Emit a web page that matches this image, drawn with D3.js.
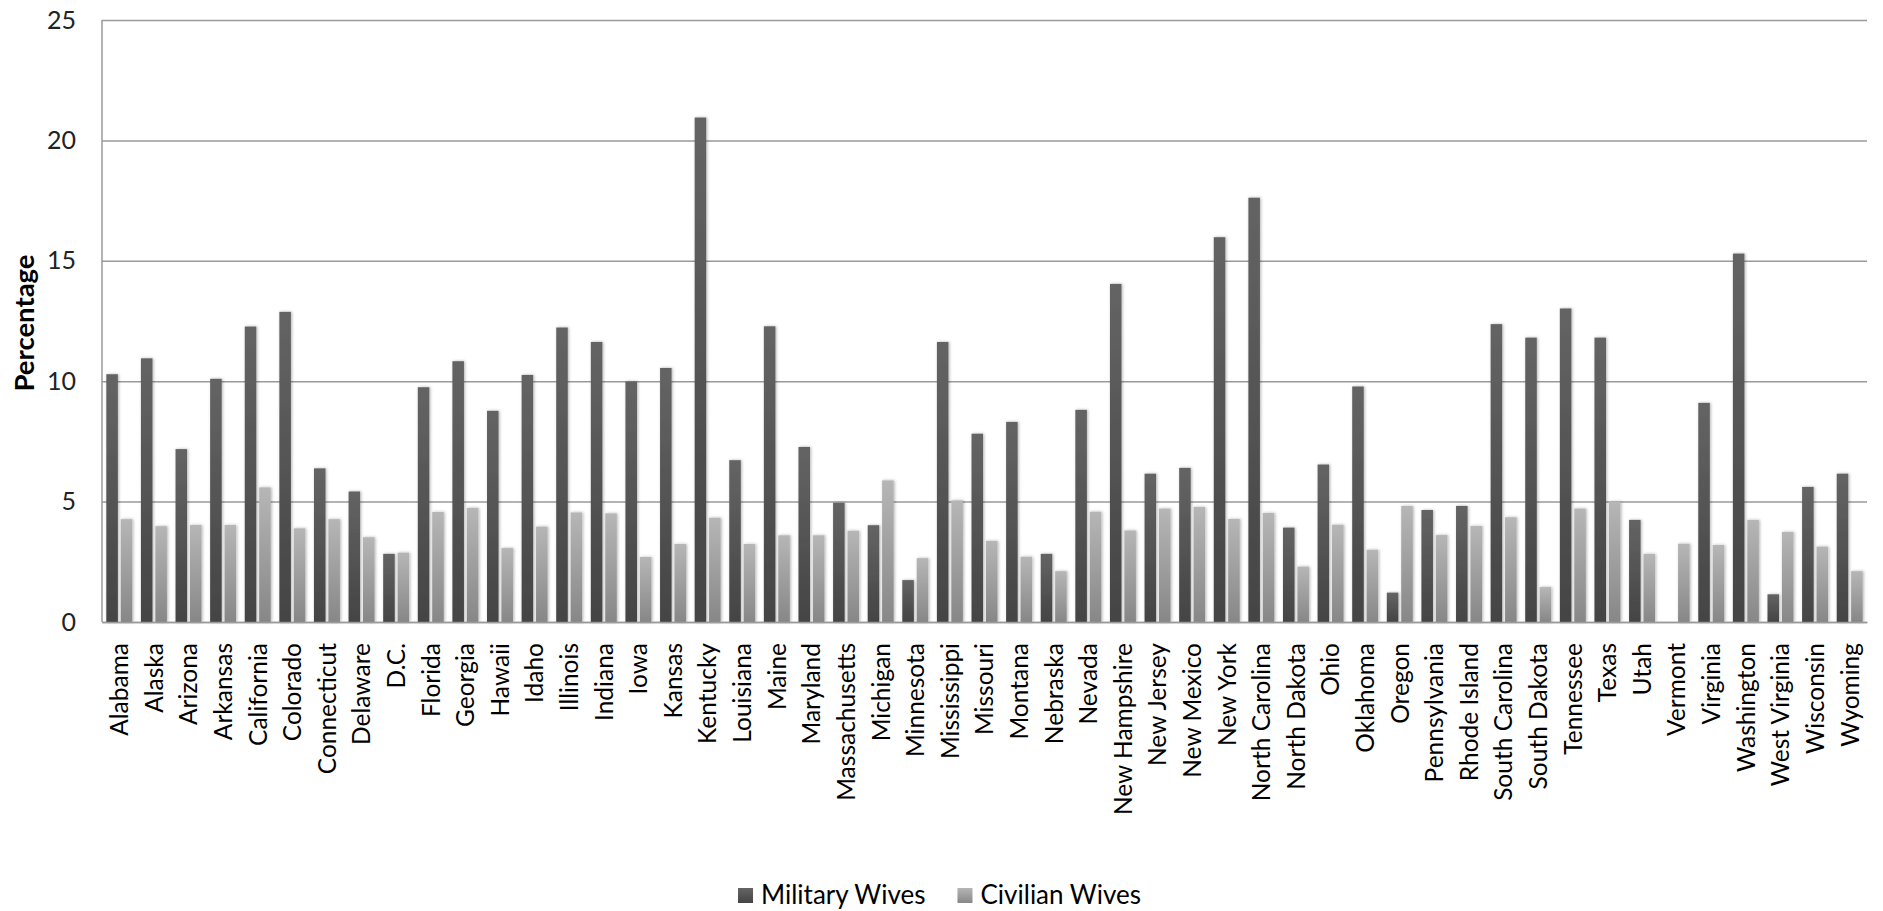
<!DOCTYPE html>
<html>
<head>
<meta charset="utf-8">
<script src="https://cdn.jsdelivr.net/npm/d3@7"></script>
<style>
  html, body { margin: 0; padding: 0; background: #ffffff; }
  svg { display: block; }
  text { font-family: Lato, "Open Sans", sans-serif; }
</style>
</head>
<body>
<svg id="chart" width="1883" height="911"></svg>
<script>
const states = ["Alabama","Alaska","Arizona","Arkansas","California","Colorado","Connecticut","Delaware","D.C.","Florida","Georgia","Hawaii","Idaho","Illinois","Indiana","Iowa","Kansas","Kentucky","Louisiana","Maine","Maryland","Massachusetts","Michigan","Minnesota","Mississippi","Missouri","Montana","Nebraska","Nevada","New Hampshire","New Jersey","New Mexico","New York","North Carolina","North Dakota","Ohio","Oklahoma","Oregon","Pennsylvania","Rhode Island","South Carolina","South Dakota","Tennessee","Texas","Utah","Vermont","Virginia","Washington","West Virginia","Wisconsin","Wyoming"];

const militaryWives = [10.29,10.95,7.18,10.1,12.27,12.88,6.38,5.42,2.83,9.75,10.83,8.77,10.26,12.23,11.63,9.99,10.55,20.95,6.72,12.28,7.27,4.95,4.02,1.74,11.63,7.82,8.31,2.83,8.81,14.04,6.16,6.40,15.98,17.62,3.92,6.54,9.78,1.22,4.65,4.82,12.37,11.81,13.02,11.81,4.24,0,9.10,15.30,1.15,5.61,6.16];

const civilianWives = [4.27,3.98,4.03,4.03,5.59,3.89,4.27,3.52,2.88,4.57,4.74,3.07,3.96,4.55,4.51,2.70,3.24,4.33,3.24,3.6,3.6,3.79,5.88,2.65,5.05,3.37,2.71,2.11,4.58,3.80,4.71,4.78,4.28,4.53,2.30,4.04,3.0,4.82,3.61,3.99,4.35,1.45,4.71,5.0,2.83,3.25,3.20,4.24,3.74,3.13,2.11];

const seriesNames = ["Military Wives", "Civilian Wives"];
const yTicks = [0, 5, 10, 15, 20, 25];
const yLabel = "Percentage";

const svg = d3.select("#chart");
const W = 1883, H = 911;
const m = { left: 102, right: W - 1867, top: 20, bottom: H - 622 };
const iw = W - m.left - m.right, ih = H - m.top - m.bottom;

const defs = svg.append("defs");
const grads = [
  { id: "gMil", top: "#646464", bot: "#444444" },
  { id: "gCiv", top: "#b6b6b6", bot: "#878787" }
];
grads.forEach(g => {
  const lg = defs.append("linearGradient").attr("id", g.id)
    .attr("x1", 0).attr("y1", 0).attr("x2", 0).attr("y2", 1);
  lg.append("stop").attr("offset", "0%").attr("stop-color", g.top);
  lg.append("stop").attr("offset", "100%").attr("stop-color", g.bot);
});
const f = defs.append("filter").attr("id", "shadow")
  .attr("x", "-50%").attr("y", "-10%").attr("width", "200%").attr("height", "120%");
f.append("feDropShadow").attr("dx", 1).attr("dy", 0).attr("stdDeviation", 1.5)
  .attr("flood-color", "#000").attr("flood-opacity", 0.3);

const g = svg.append("g").attr("transform", `translate(${m.left},${m.top})`);

const x0 = d3.scaleBand().domain(states).range([0, iw]).paddingInner(0.25).paddingOuter(0.125);
const x1 = d3.scaleBand().domain(seriesNames).range([0, x0.bandwidth()]).paddingInner(0.2).paddingOuter(0);
const y = d3.scaleLinear().domain([0, 25]).range([ih, 0]);

// gridlines + y axis
const yAxis = g.append("g").call(d3.axisLeft(y).tickValues(yTicks).tickSize(-iw).tickPadding(26));
yAxis.select(".domain").remove();
yAxis.selectAll(".tick line").attr("stroke", "#9a9a9a").attr("stroke-width", 1.5);
yAxis.selectAll(".tick text").attr("fill", "#222").style("font-size", "25px");

// left axis line
g.append("line").attr("x1", 0).attr("x2", 0).attr("y1", 0).attr("y2", ih)
  .attr("stroke", "#9a9a9a").attr("stroke-width", 1.5);

// bars
const rows = states.map((s, i) => ({ state: s, vals: [militaryWives[i], civilianWives[i]] }));
const fills = ["url(#gMil)", "url(#gCiv)"];
const grp = g.selectAll(".cat").data(rows).join("g")
  .attr("class", "cat").attr("transform", d => `translate(${x0(d.state)},0)`);
grp.selectAll("rect").data(d => d.vals.map((v, k) => ({ v, k })).filter(e => e.v > 0)).join("rect")
  .attr("x", e => x1(seriesNames[e.k]))
  .attr("width", x1.bandwidth())
  .attr("y", e => y(e.v))
  .attr("height", e => ih - y(e.v))
  .attr("fill", e => fills[e.k])
  .attr("filter", "url(#shadow)");

// x axis
const xAxis = g.append("g").attr("transform", `translate(0,${ih})`)
  .call(d3.axisBottom(x0).tickSize(0));
xAxis.select(".domain").attr("stroke", "#9a9a9a").attr("stroke-width", 1.5);
xAxis.selectAll(".tick text")
  .attr("transform", "rotate(-90)")
  .attr("x", -21).attr("y", 0).attr("dy", "0.36em")
  .style("text-anchor", "end")
  .style("font-size", "24.5px")
  .attr("fill", "#000");

// y label
svg.append("text")
  .attr("transform", `translate(24,${m.top + ih / 2 + 2}) rotate(-90)`)
  .attr("text-anchor", "middle").attr("dy", "0.36em")
  .style("font-size", "27.5px").style("font-weight", "bold").attr("fill", "#000")
  .text(yLabel);

// legend
const leg = svg.append("g");
const legFills = ["url(#gMil)", "url(#gCiv)"];
let cx = 0;
seriesNames.forEach((name, k) => {
  const it = leg.append("g").attr("transform", `translate(${cx},0)`);
  it.append("rect").attr("x", 0).attr("y", -7).attr("width", 15).attr("height", 15).attr("fill", legFills[k]);
  const t = it.append("text").attr("x", 23).attr("y", 0).attr("dy", "0.36em")
    .style("font-size", "26px").attr("fill", "#000").text(name);
  const w = t.node().getComputedTextLength();
  cx += 23 + w + 32;
});
const totalW = cx - 32;
leg.attr("transform", `translate(${W / 2 - totalW / 2 - 2},895)`);
</script>
</body>
</html>
